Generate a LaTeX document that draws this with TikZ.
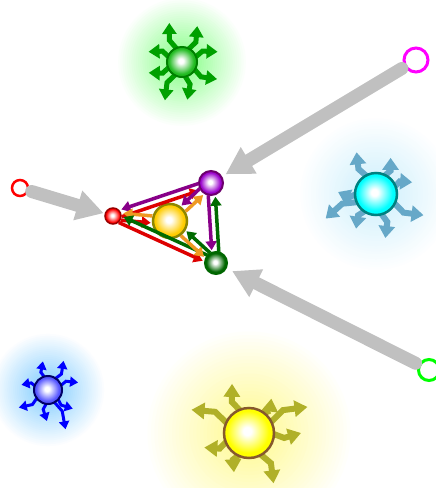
\documentclass[tikz,border=0pt]{standalone}
\usetikzlibrary{arrows.meta,calc}
\definecolor{cRed}{HTML}{DD0000}
\definecolor{cOrange}{HTML}{EE9922}
\definecolor{cPurple}{HTML}{880088}
\definecolor{cDGreen}{HTML}{006A00}
\definecolor{cGreenS}{HTML}{00A000}
\definecolor{cCyanS}{HTML}{66A8C8}
\definecolor{cBlueS}{HTML}{0000FF}
\definecolor{cYelS}{HTML}{B0B028}
\definecolor{cGray}{HTML}{C0C0C0}
\definecolor{cMag}{HTML}{FF00FF}
\definecolor{cLime}{HTML}{00FF00}
\definecolor{bRed}{HTML}{FF0000}
\definecolor{bGold}{HTML}{FFCC00}
\definecolor{bPurple}{HTML}{9900CC}
\definecolor{bDGreen}{HTML}{006600}
\definecolor{bGreen}{HTML}{22BB22}
\definecolor{bCyan}{HTML}{00FFFF}
\definecolor{bBlue}{HTML}{5555FF}
\definecolor{bYellow}{HTML}{FFFF00}
\definecolor{gAzure}{HTML}{0099FF}
\newcommand\mkball[2]{\pgfdeclareradialshading{#1}{\pgfpoint{-2bp}{2bp}}{color(0bp)=(white); color(4bp)=(white); color(10bp)=(#2!35!white); color(16bp)=(#2!70!white); color(21bp)=(#2); color(50bp)=(#2)}}
\mkball{shRed}{bRed}
\mkball{shGold}{bGold}
\mkball{shPurple}{bPurple}
\mkball{shDGreen}{bDGreen}
\mkball{shGreen}{bGreen}
\mkball{shCyan}{bCyan}
\mkball{shBlue}{bBlue}
\mkball{shYellow}{bYellow}
\newcommand\myglow[4]{%
  \foreach \k in {0,...,29}{%
    \pgfmathsetmacro\gr{#2*(1-\k/30)}%
    \pgfmathsetmacro\gp{#4*(\k/29)}%
    \fill[#3!\gp!white] (#1) circle (\gr pt);}}
\newcommand\starrays[4]{%
  \foreach \a/\l/\b in {#4}{%
    \pgfmathsetmacro\mm{#3+0.45*(\l-#3)}%
    \pgfmathsetmacro\ab{\a+\b}%
    \draw[#2] ($(#1)+(\a:#3 pt)$) -- ($(#1)+(\ab:\mm pt)$) -- ($(#1)+(\a:\l pt)$);}}
\begin{document}
\begin{tikzpicture}[x=1pt,y=-1pt,
  ball/.style={circle,inner sep=0pt},
  big/.style={draw=cGray,line width=13pt,line cap=round,-{Triangle[width=29pt,length=27pt]}},
  tri/.style={line width=3.5pt,-{Triangle[width=11pt,length=9pt]}},
  sgreen/.style={draw=cGreenS,line width=5pt,-{Triangle[width=14pt,length=11pt]}},
  scyan/.style={draw=cCyanS,line width=6pt,-{Triangle[width=16pt,length=12pt]}},
  sblue/.style={draw=cBlueS,line width=3pt,-{Triangle[width=10pt,length=8pt]}},
  syel/.style={draw=cYelS,line width=6pt,-{Triangle[width=16pt,length=13pt]}}]
\useasboundingbox (0,0) rectangle (436,488);
\clip (0,0) rectangle (436,488);
\fill[white] (0,0) rectangle (436,488);
% centres of the glowing balls
\coordinate (gsc) at (182,62);
\coordinate (csc) at (376,194);
\coordinate (bsc) at (48,390);
\coordinate (ysc) at (249,433);
% glows
\myglow{gsc}{66}{green}{48}
\myglow{csc}{78}{cyan}{20}
\myglow{bsc}{58}{gAzure}{50}
\myglow{ysc}{105}{yellow}{45}
% rays
\starrays{gsc}{sgreen}{12}{108/41/12, 67/39/-12, 16/37/12, -26/39/-12, -82/38/12, -114/42/-12, -162/35/12, 163/35/-12}
\starrays{csc}{scyan}{18}{115/46/10, 68/39/-10, 18/38/10, -24/52/-10, -78/45/10, -120/40/-10, 177/38/10, -154/56/-10}
\starrays{bsc}{sblue}{11}{100/29/12, 62/33/-12, 14/31/12, -37/31/-12, -66/43/10, -92/31/-12, -149/34/12, 169/27/-12}
\starrays{ysc}{syel}{22}{109/52/10, 57/41/-10, 24/64/10, 0/52/-8, -64/56/10, -111/42/-10, -162/47/10, 158/62/-10}
% glowing balls
\node[ball,minimum size=30pt,shading=shGreen,draw=green!50!black,line width=2pt] (gs) at (gsc) {};
\node[ball,minimum size=42pt,shading=shCyan,draw=teal,line width=2.5pt] (cs) at (csc) {};
\node[ball,minimum size=28pt,shading=shBlue,draw=blue!40!black,line width=2pt] (bs) at (bsc) {};
\node[ball,minimum size=50pt,shading=shYellow,draw=brown!70!black,line width=2.5pt] (ys) at (ysc) {};
% triangle balls
\node[ball,minimum size=16pt,shading=shRed,draw=red!60!black,line width=1.5pt] (r) at (113,216) {};
\node[ball,minimum size=34pt,shading=shGold,draw=olive,line width=2.5pt] (o) at (170,221) {};
\node[ball,minimum size=24pt,shading=shPurple,draw=cPurple!80!black,line width=2pt] (p) at (211,183) {};
\node[ball,minimum size=22pt,shading=shDGreen,draw=bDGreen,line width=2pt] (g) at (216,263) {};
% open circles
\node[circle,inner sep=0pt,minimum size=16pt,draw=red,line width=2.5pt] (rc) at (20,188) {};
\node[circle,inner sep=0pt,minimum size=24pt,draw=cMag,line width=3pt] (mc) at (416,60) {};
\node[circle,inner sep=0pt,minimum size=21pt,draw=cLime,line width=3pt] (lc) at (429,370) {};
% big grey arrows
\draw[big,shorten <=3pt,shorten >=1pt] (rc) -- (r);
\draw[big,shorten <=3pt,shorten >=4pt] (mc) -- (p);
\draw[big,shorten <=3pt,shorten >=6pt] (lc) -- (g);
% arrows between the four balls
\draw[tri,cRed,shorten <=8pt,shorten >=14pt] ($(r)!3.5pt!-90:(p)$) -- ($(p)!3.5pt!90:(r)$);
\draw[tri,cPurple,shorten <=12pt,shorten >=10pt] ($(p)!3.5pt!-90:(r)$) -- ($(r)!3.5pt!90:(p)$);
\draw[tri,cRed,shorten <=8pt,shorten >=19pt] ($(r)!3.5pt!-90:(o)$) -- ($(o)!3.5pt!90:(r)$);
\draw[tri,cOrange,shorten <=18pt,shorten >=10pt] ($(o)!3.5pt!-90:(r)$) -- ($(r)!3.5pt!90:(o)$);
\draw[tri,cRed,shorten <=8pt,shorten >=13pt] ($(r)!3.5pt!-90:(g)$) -- ($(g)!3.5pt!90:(r)$);
\draw[tri,cDGreen,shorten <=11pt,shorten >=10pt] ($(g)!3.5pt!-90:(r)$) -- ($(r)!3.5pt!90:(g)$);
\draw[tri,cOrange,shorten <=18pt,shorten >=14pt] ($(o)!3.5pt!-90:(p)$) -- ($(p)!3.5pt!90:(o)$);
\draw[tri,cPurple,shorten <=12pt,shorten >=19pt] ($(p)!3.5pt!-90:(o)$) -- ($(o)!3.5pt!90:(p)$);
\draw[tri,cOrange,shorten <=18pt,shorten >=13pt] ($(o)!3.5pt!-90:(g)$) -- ($(g)!3.5pt!90:(o)$);
\draw[tri,cDGreen,shorten <=11pt,shorten >=19pt] ($(g)!3.5pt!-90:(o)$) -- ($(o)!3.5pt!90:(g)$);
\draw[tri,cPurple,shorten <=12pt,shorten >=13pt] ($(p)!3.5pt!-90:(g)$) -- ($(g)!3.5pt!90:(p)$);
\draw[tri,cDGreen,shorten <=11pt,shorten >=14pt] ($(g)!3.5pt!-90:(p)$) -- ($(p)!3.5pt!90:(g)$);
\end{tikzpicture}
\end{document}
